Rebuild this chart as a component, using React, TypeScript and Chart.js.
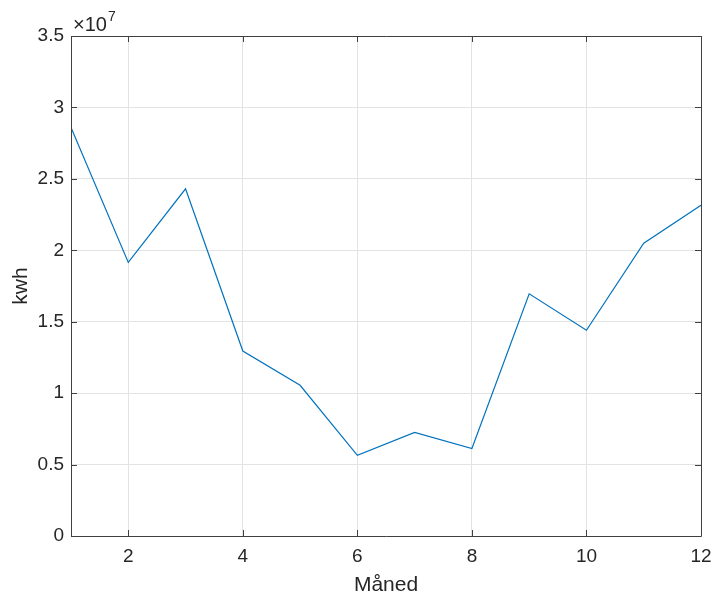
import React, { useEffect, useRef } from "react";
import { Chart, registerables } from "chart.js";

Chart.register(...registerables);

const months = [1, 2, 3, 4, 5, 6, 7, 8, 9, 10, 11, 12];
const kwh = [
  2.86e7, 1.915e7, 2.43e7, 1.295e7, 1.055e7, 0.565e7, 0.725e7, 0.612e7,
  1.695e7, 1.44e7, 2.05e7, 2.315e7,
];
const xTicks = [2, 4, 6, 8, 10, 12];
const yTicks = [0, 0.5e7, 1e7, 1.5e7, 2e7, 2.5e7, 3e7, 3.5e7];
const yTickLabels = ["0", "0.5", "1", "1.5", "2", "2.5", "3", "3.5"];

const FONT = "'Liberation Sans', Arial, sans-serif";

const boxPlugin = {
  id: "matlabBox",
  afterDraw(chart: any) {
    const { ctx, chartArea } = chart;
    const { left, right, top, bottom } = chartArea;
    const xs = chart.scales.x;
    const ys = chart.scales.y;
    ctx.save();
    ctx.strokeStyle = "#404040";
    ctx.lineWidth = 1;
    ctx.beginPath();
    ctx.rect(left + 0.5, top + 0.5, right - left, bottom - top);
    ctx.stroke();
    const tl = 6;
    ctx.beginPath();
    for (const v of xTicks) {
      const px = Math.round(xs.getPixelForValue(v)) + 0.5;
      ctx.moveTo(px, bottom);
      ctx.lineTo(px, bottom - tl);
      ctx.moveTo(px, top);
      ctx.lineTo(px, top + tl);
    }
    for (const v of yTicks) {
      const py = Math.round(ys.getPixelForValue(v)) + 0.5;
      ctx.moveTo(left, py);
      ctx.lineTo(left + tl, py);
      ctx.moveTo(right, py);
      ctx.lineTo(right - tl, py);
    }
    ctx.stroke();
    // exponent label
    ctx.fillStyle = "#262626";
    ctx.textBaseline = "alphabetic";
    ctx.textAlign = "left";
    ctx.font = `20px ${FONT}`;
    ctx.fillText("\u00d710", left + 2, top - 5);
    const w = ctx.measureText("\u00d710").width;
    ctx.font = `14px ${FONT}`;
    ctx.fillText("7", left + 3 + w, top - 15);
    ctx.restore();
  },
};

export default function App() {
  const ref = useRef<HTMLCanvasElement>(null);
  useEffect(() => {
    if (!ref.current) return;
    const chart = new Chart(ref.current, {
      type: "line",
      data: {
        datasets: [
          {
            data: months.map((m, i) => ({ x: m, y: kwh[i] })),
            borderColor: "#0072BD",
            borderWidth: 1.2,
            pointRadius: 0,
            tension: 0,
            fill: false,
          },
        ],
      },
      options: {
        animation: false,
        responsive: false,
        maintainAspectRatio: false,
        layout: { padding: { left: 0, right: 11, top: 36, bottom: 0 } },
        plugins: { legend: { display: false }, tooltip: { enabled: false } },
        scales: {
          x: {
            type: "linear",
            min: 1,
            max: 12,
            afterBuildTicks: (s: any) => {
              s.ticks = xTicks.map((value) => ({ value }));
            },
            afterFit: (s: any) => {
              s.height = 57;
              s.paddingLeft = 0;
              s.paddingRight = 0;
            },
            grid: { color: "#e3e3e3", drawTicks: false },
            border: { display: false },
            ticks: {
              padding: 9,
              color: "#262626",
              font: { family: FONT, size: 19 },
              callback: (v: any) => String(v),
            },
            title: {
              display: true,
              text: "Måned",
              color: "#262626",
              font: { family: FONT, size: 21 },
              padding: { top: 0, bottom: -5 },
            },
          },
          y: {
            type: "linear",
            min: 0,
            max: 3.5e7,
            afterBuildTicks: (s: any) => {
              s.ticks = yTicks.map((value) => ({ value }));
            },
            afterFit: (s: any) => {
              s.width = 71;
              s.paddingTop = 0;
              s.paddingBottom = 0;
            },
            grid: { color: "#e3e3e3", drawTicks: false },
            border: { display: false },
            ticks: {
              padding: 7,
              color: "#262626",
              font: { family: FONT, size: 19 },
              callback: (v: any) => {
                const i = yTicks.indexOf(Number(v));
                return i >= 0 ? yTickLabels[i] : "";
              },
            },
            title: {
              display: true,
              text: "kwh",
              color: "#262626",
              font: { family: FONT, size: 21 },
              padding: { top: 9, bottom: 0 },
            },
          },
        },
      },
      plugins: [boxPlugin],
    });
    return () => chart.destroy();
  }, []);
  return (
    <div style={{ position: "fixed", left: 0, top: 0, width: 712, height: 593, background: "#fff" }}>
      <canvas ref={ref} width={712} height={593} style={{ width: 712, height: 593 }} />
    </div>
  );
}
